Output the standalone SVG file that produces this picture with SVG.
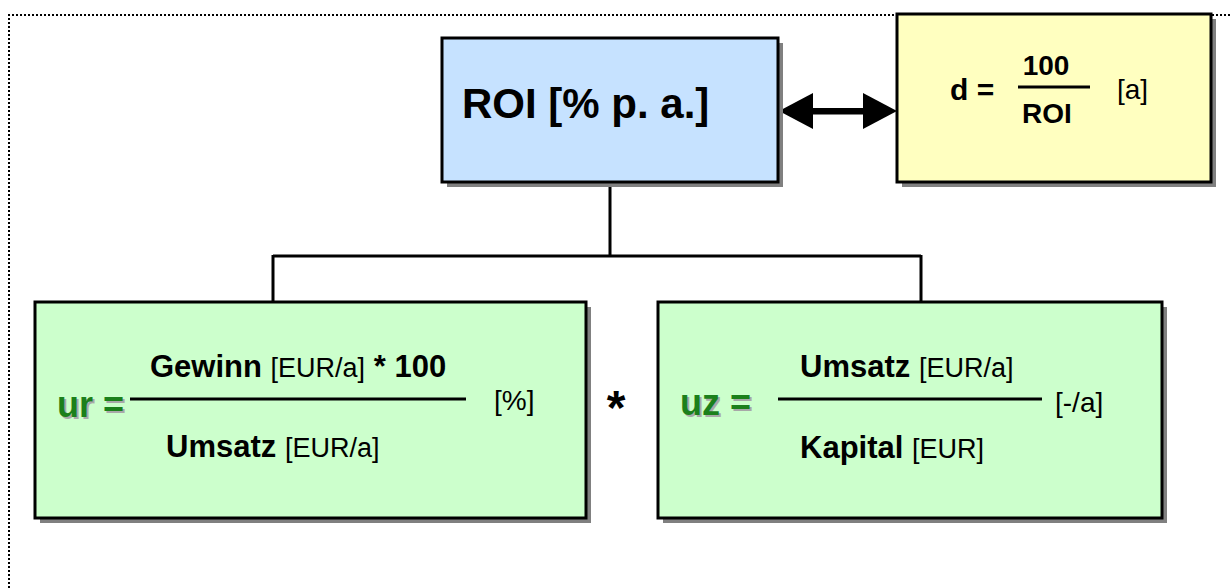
<svg xmlns="http://www.w3.org/2000/svg" width="1232" height="588" viewBox="0 0 1232 588">
<style>
  .shadow{fill:#808080}
  .box{stroke:#000;stroke-width:3}
  .b{font-family:"Liberation Sans",Arial,sans-serif;font-weight:bold;fill:#000}
  .r{font-family:"Liberation Sans",Arial,sans-serif;font-weight:normal;fill:#000}
  .g{font-family:"Liberation Sans",Arial,sans-serif;font-weight:bold;fill:#1B801B}
  .gs{font-family:"Liberation Sans",Arial,sans-serif;font-weight:bold;fill:#A8A8A8}
  .con{stroke:#000;stroke-width:3;fill:none}
  .frac{stroke:#000;stroke-width:3}
</style>
<rect width="1232" height="588" fill="#fff"/>
<path d="M9,588 V15 H1232" fill="none" stroke="#000" stroke-width="2" stroke-dasharray="2 2"/>

<g id="connectors">
  <path class="con" d="M610,183 V256 M273,256 H921 M273,255 V302 M921,255 V302"/>
  <g id="double-arrow" fill="#000">
    <rect x="811" y="108" width="54" height="6.5"/>
    <polygon points="779,111 813,93 813,129"/>
    <polygon points="897,111 863,93 863,129"/>
  </g>
</g>

<g id="roi">
  <rect class="shadow" x="447" y="43" width="336" height="144"/>
  <rect class="box" x="442" y="38" width="336" height="144" fill="#C6E2FF"/>
  <text class="b" x="462" y="118" font-size="42">ROI [% p. a.]</text>
</g>

<g id="d">
  <rect class="shadow" x="902" y="19" width="314" height="168"/>
  <rect class="box" x="897" y="14" width="314" height="168" fill="#FFFFC0"/>
  <text class="b" x="950" y="100" font-size="30">d =</text>
  <text class="b" x="1046" y="75" font-size="28" text-anchor="middle">100</text>
  <line class="frac" x1="1018" y1="87" x2="1090" y2="87" stroke-width="3.5"/>
  <text class="b" x="1047" y="123" font-size="28" text-anchor="middle">ROI</text>
  <text class="r" x="1117" y="99" font-size="28">[a]</text>
</g>

<g id="ur">
  <rect class="shadow" x="40" y="307" width="551" height="216"/>
  <rect class="box" x="35" y="302" width="551" height="216" fill="#CCFFCC"/>
  <text class="gs" x="59" y="419" font-size="36">ur =</text>
  <text class="g" x="57" y="417" font-size="36">ur =</text>
  <line class="frac" x1="130" y1="399" x2="466" y2="399"/>
  <text x="150" y="377" font-size="31"><tspan class="b">Gewinn </tspan><tspan class="r" font-size="27">[EUR/a]</tspan><tspan class="b"> * 100</tspan></text>
  <text x="166" y="457" font-size="31"><tspan class="b">Umsatz </tspan><tspan class="r" font-size="27">[EUR/a]</tspan></text>
  <text class="r" x="494" y="410" font-size="28">[%]</text>
</g>

<text id="times" class="b" x="616" y="424" font-size="48" text-anchor="middle">*</text>

<g id="uz">
  <rect class="shadow" x="663" y="307" width="504" height="216"/>
  <rect class="box" x="658" y="302" width="504" height="216" fill="#CCFFCC"/>
  <text class="gs" x="682" y="417" font-size="36">uz =</text>
  <text class="g" x="680" y="415" font-size="36">uz =</text>
  <line class="frac" x1="778" y1="399" x2="1042" y2="399"/>
  <text x="800" y="377" font-size="31"><tspan class="b">Umsatz </tspan><tspan class="r" font-size="27">[EUR/a]</tspan></text>
  <text x="800" y="458" font-size="31"><tspan class="b">Kapital </tspan><tspan class="r" font-size="27">[EUR]</tspan></text>
  <text class="r" x="1055" y="412" font-size="28">[-/a]</text>
</g>
</svg>
